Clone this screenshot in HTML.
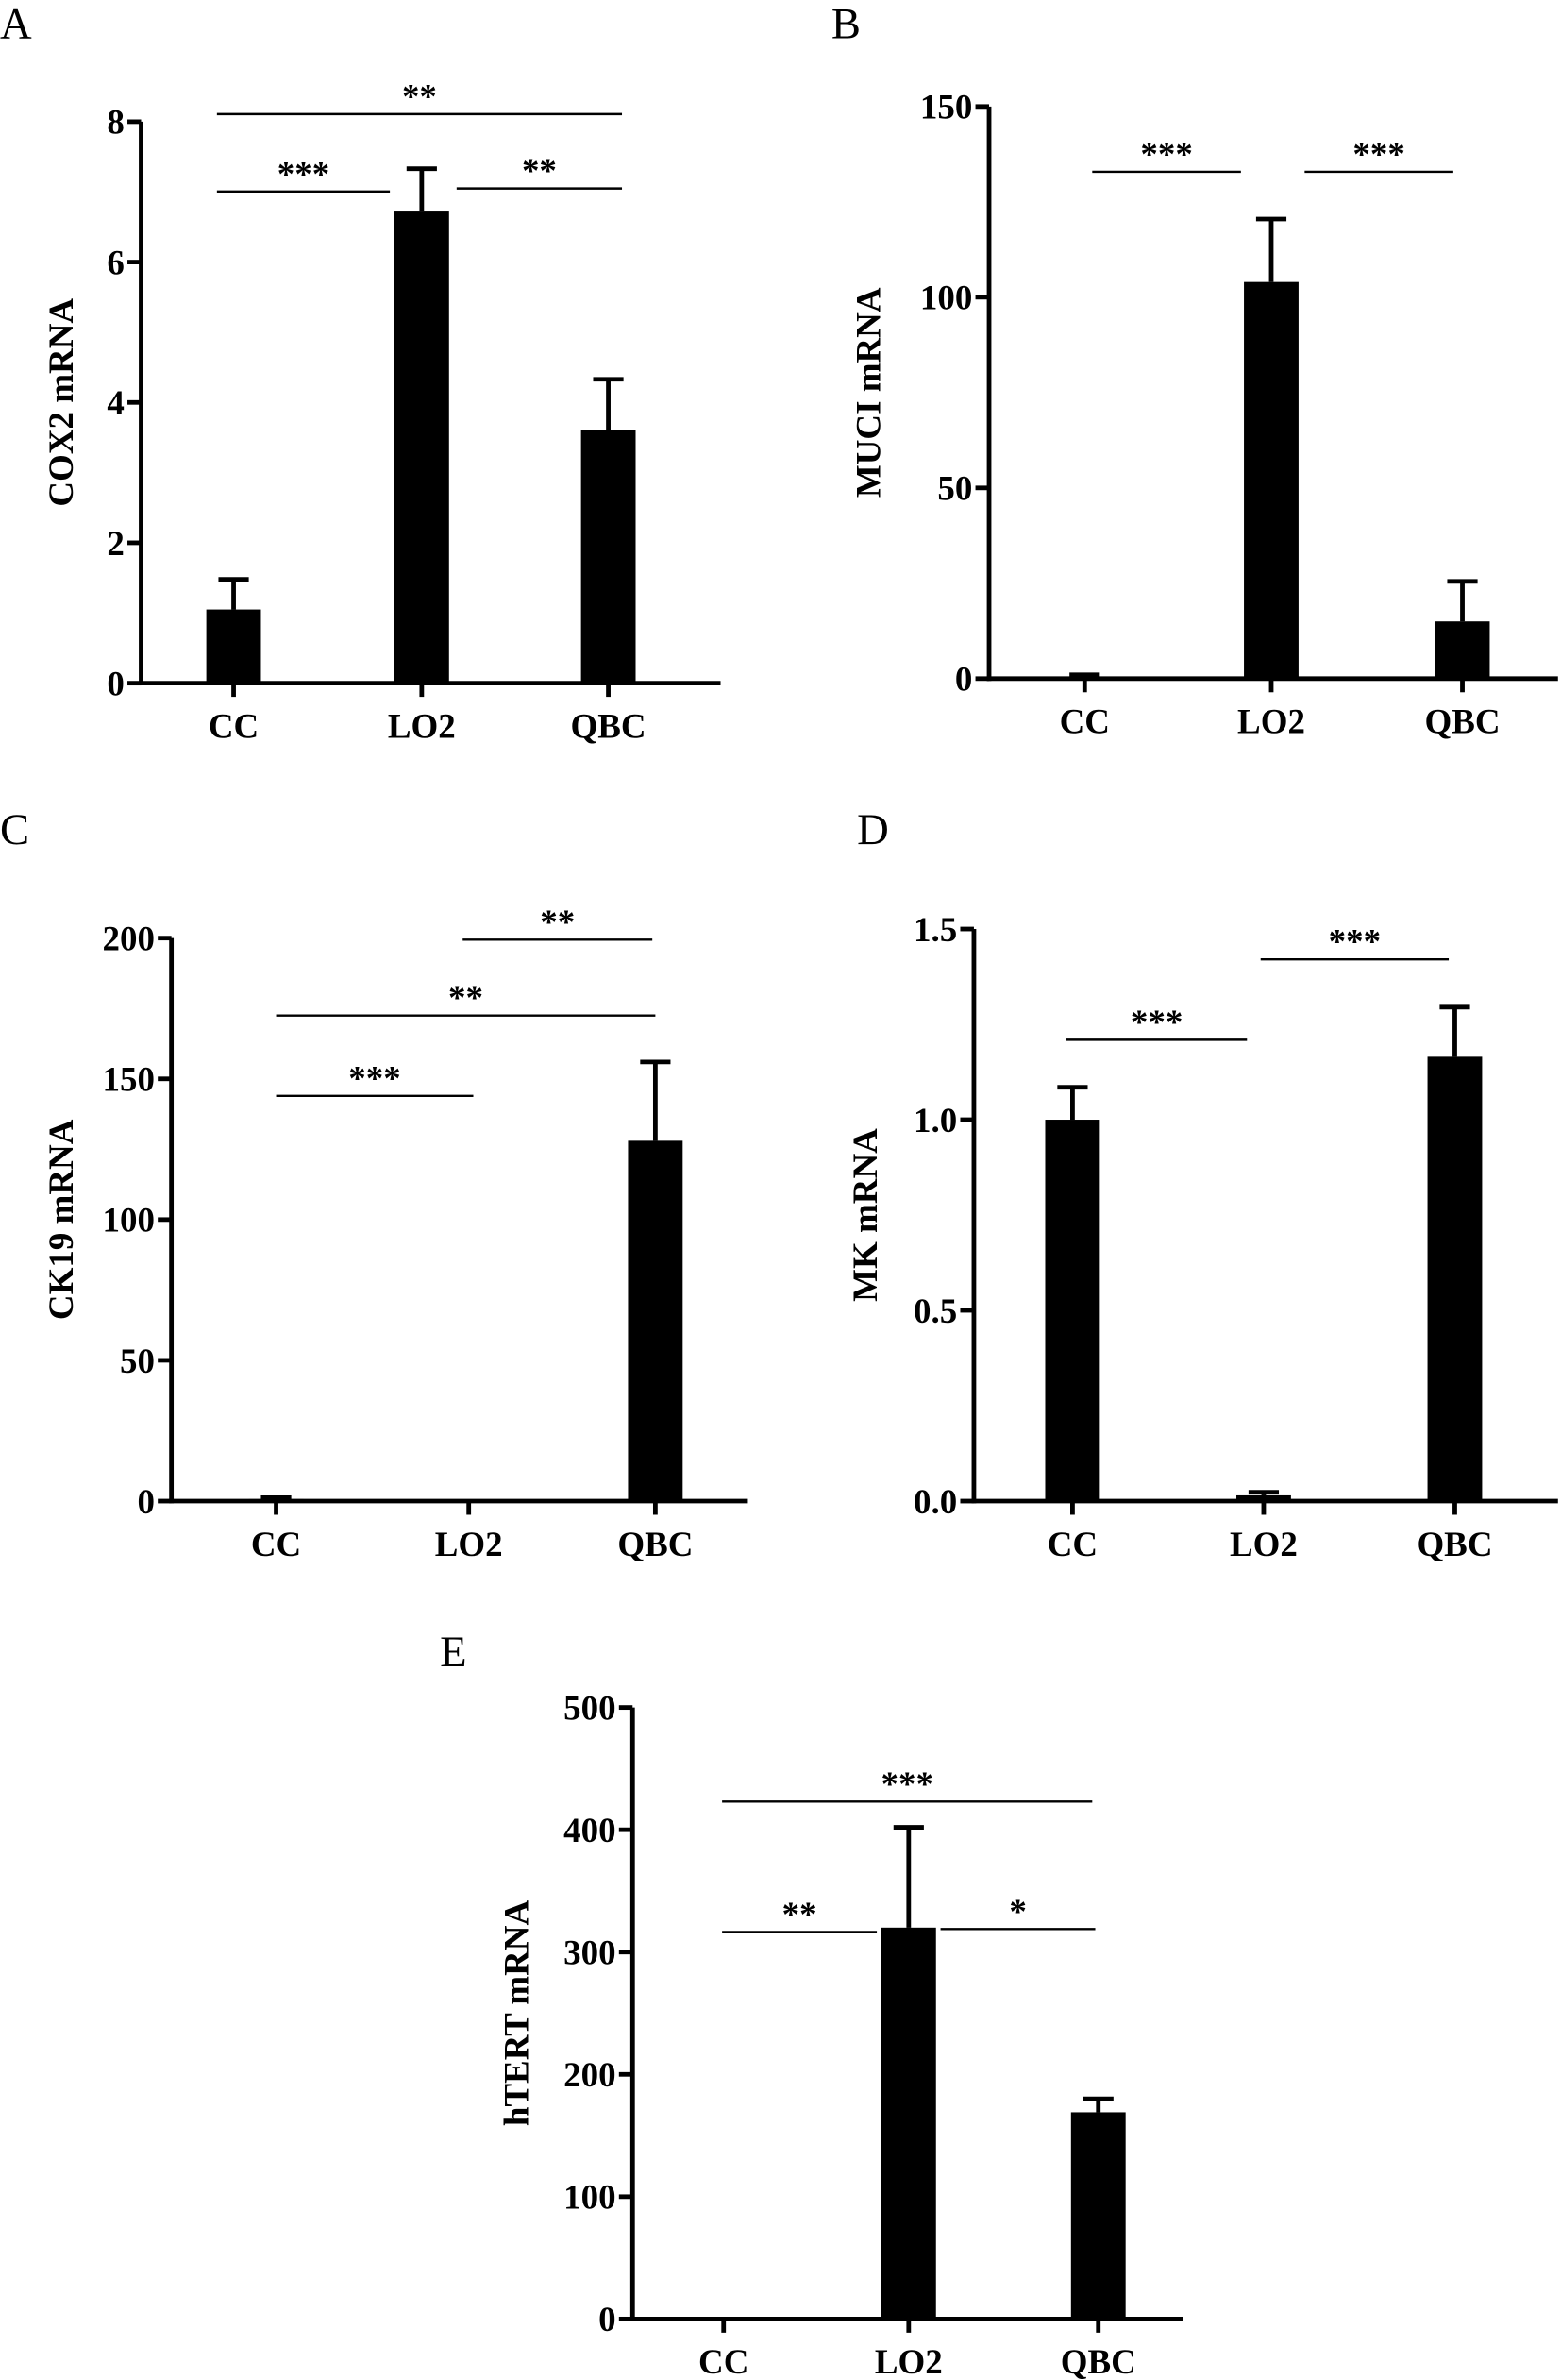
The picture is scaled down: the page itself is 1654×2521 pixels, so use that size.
<!DOCTYPE html>
<html><head><meta charset="utf-8"><style>
html,body{margin:0;padding:0;background:#fff}
svg{display:block}
text{font-family:"Liberation Serif",serif;fill:#000}
.t{font-weight:bold;font-size:23px}
.l{font-size:29px}
</style></head><body>
<svg id="fig" width="1654" height="2521" viewBox="0 0 1029 1568" xmlns="http://www.w3.org/2000/svg"></svg>
<script>
const categories = ["CC","LO2","QBC"];
const cox2Values = [1.05, 6.72, 3.6];
const cox2Errors = [0.43, 0.61, 0.73];
const cox2Ticks = [0,2,4,6,8];
const muc1Values = [0.5, 104, 15];
const muc1Errors = [0.5, 16.5, 10.5];
const muc1Ticks = [0,50,100,150];
const ck19Values = [0.7, 0, 128];
const ck19Errors = [0.5, 0, 28];
const ck19Ticks = [0,50,100,150,200];
const mkValues = [1.0, 0.015, 1.165];
const mkErrors = [0.085, 0.008, 0.13];
const mkTicks = [0.0,0.5,1.0,1.5];
const mkTickLabels = ["0.0","0.5","1.0","1.5"];
const htertValues = [1, 320, 169];
const htertErrors = [0, 82, 11];
const htertTicks = [0,100,200,300,400,500];

const svg = document.getElementById('fig');
const NS = 'http://www.w3.org/2000/svg';
function mk(tag, attrs, parent){const e=document.createElementNS(NS,tag);for(const k in attrs)e.setAttribute(k,attrs[k]);(parent||svg).appendChild(e);return e;}

function panel(p){
  const g = mk('g',{});
  
  
  const max = p.ticks[p.ticks.length-1];
  const y = v => p.y0 - (v/max)*(p.y0-p.yTop);
  const letter = mk('text',{x:p.lx,y:p.ly,class:'l'},g); letter.textContent=p.letter;
  
  
  p.values.forEach((v,i)=>{
    const cx = p.xs[i];
    const top = y(v+p.errors[i]);
    if(p.errors[i]>0){
      const el = mk('line',{x1:cx,x2:cx,y1:y(v),y2:top,stroke:'#000','stroke-width':3},g);
      
      
      const cap = mk('line',{x1:cx-10,x2:cx+10,y1:top,y2:top,stroke:'#000','stroke-width':3},g);
      
      
    }
    const h = Math.max(p.y0 - y(v), 0);
    const b = mk('rect',{x:cx-18,y:y(v),width:36,height:h,fill:'#000'},g);
    
    
    const xt = mk('line',{x1:cx,x2:cx,y1:p.y0,y2:p.y0+9,stroke:'#000','stroke-width':3},g);
    
    
    const t = mk('text',{x:cx,y:p.y0+36,class:'t','text-anchor':'middle','font-size':24},g);
    t.textContent = categories[i];
    
    
  });
  const ya = mk('line',{x1:p.ax,x2:p.ax,y1:p.yTop,y2:p.y0+1.5,stroke:'#000','stroke-width':3},g);
  
  
  const xa = mk('line',{x1:p.ax-1.5,x2:p.axEnd,y1:p.y0,y2:p.y0,stroke:'#000','stroke-width':3},g);
  
  
  p.ticks.forEach((tv,i)=>{
    const ty=y(tv);
    mk('line',{x1:p.ax-9,x2:p.ax,y1:ty,y2:ty,stroke:'#000','stroke-width':3},g);
    const t = mk('text',{x:p.ax-11,y:ty+8,class:'t','text-anchor':'end'},g);
    t.textContent = p.tickLabels ? p.tickLabels[i] : String(tv);
    
    
  });
  const tt = mk('text',{x:0,y:0,class:'t','text-anchor':'middle',transform:`translate(${p.tx},${(p.yTop+p.y0)/2}) rotate(-90)`},g);
  tt.textContent = p.title;
  
  
  p.sig.forEach(s=>{
    const ln = mk('line',{x1:s[0],x2:s[1],y1:s[2],y2:s[2],stroke:'#000','stroke-width':1.5},g);
    
    
    const st = mk('text',{x:(s[0]+s[1])/2,y:s[2]-4,class:'t','text-anchor':'middle','font-size':28},g);
    st.textContent = s[3];
    
    
  });
}

panel({name:'panel-a-cox2',letter:'A',lx:0,ly:25,ax:93,axEnd:475,yTop:80,y0:450,xs:[154,278,401],
  values:cox2Values,errors:cox2Errors,ticks:cox2Ticks,title:'COX2 mRNA',tx:48,
  sig:[[143,410,75,'**'],[143,257,126,'***'],[301,410,124,'**']]});
panel({name:'panel-b-muc1',letter:'B',lx:548,ly:25,ax:652,axEnd:1027,yTop:70,y0:447,xs:[715,838,964],
  values:muc1Values,errors:muc1Errors,ticks:muc1Ticks,title:'MUCI mRNA',tx:580,
  sig:[[720,818,113,'***'],[860,958,113,'***']]});
panel({name:'panel-c-ck19',letter:'C',lx:0,ly:556,ax:113,axEnd:493,yTop:618,y0:989,xs:[182,309,432],
  values:ck19Values,errors:ck19Errors,ticks:ck19Ticks,title:'CK19 mRNA',tx:48,
  sig:[[305,430,619,'**'],[182,432,669,'**'],[182,312,722,'***']]});
panel({name:'panel-d-mk',letter:'D',lx:565,ly:556,ax:642,axEnd:1027,yTop:612,y0:989,xs:[707,833,959],
  values:mkValues,errors:mkErrors,ticks:mkTicks,tickLabels:mkTickLabels,title:'MK mRNA',tx:578,
  sig:[[703,822,685,'***'],[831,955,632,'***']]});
panel({name:'panel-e-htert',letter:'E',lx:290,ly:1098,ax:417,axEnd:780,yTop:1125,y0:1528,xs:[477,599,724],
  values:htertValues,errors:htertErrors,ticks:htertTicks,title:'hTERT mRNA',tx:348,
  sig:[[476,720,1187,'***'],[476,578,1273,'**'],[620,722,1271,'*']]});
</script>
</body></html>
